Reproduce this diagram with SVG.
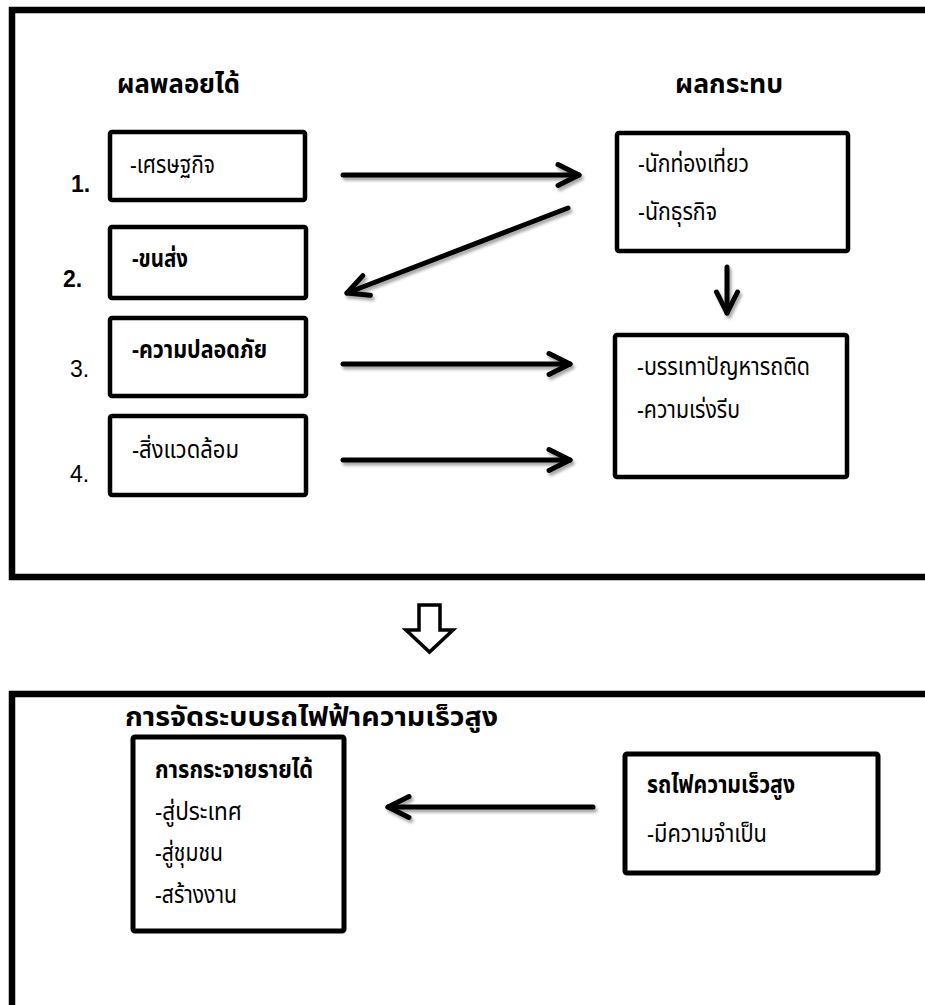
<svg xmlns="http://www.w3.org/2000/svg" width="925" height="1005" viewBox="0 0 925 1005">
<style>
.frame{fill:none;stroke:#000;stroke-width:6.5}
.box{fill:#fff;stroke:#000;stroke-width:4.5}
.box2{fill:#fff;stroke:#000;stroke-width:5}
.t{font-family:"Noto Sans Thai","Noto Sans","DejaVu Sans",sans-serif;font-size:24px;fill:#000}
.b{font-weight:bold}
.h{font-size:27px;font-weight:bold}
.n{font-family:"Liberation Sans",Arial,sans-serif;font-size:23px;fill:#000}
.ln{fill:none;stroke:#000;stroke-width:5;stroke-linecap:round}
</style>
<defs>
<filter id="sh" x="-10%" y="-50%" width="120%" height="200%">
<feDropShadow dx="2" dy="3" stdDeviation="1.6" flood-color="#000" flood-opacity="0.35"/>
</filter>
<marker id="ah" markerUnits="userSpaceOnUse" markerWidth="30" markerHeight="30" viewBox="0 0 30 30" refX="25" refY="15" orient="auto">
<path d="M4,4.5 L25,15 L4,25.5" fill="none" stroke="#000" stroke-width="5" stroke-linecap="round" stroke-linejoin="round"/>
</marker>
</defs>

<g id="frame-top">
<path class="frame" d="M925,10 H12 V577 H925"/>
<text class="t h" x="117" y="93" textLength="123" lengthAdjust="spacingAndGlyphs">ผลพลอยได้</text>
<text class="t h" x="675" y="93" textLength="108" lengthAdjust="spacingAndGlyphs">ผลกระทบ</text>
</g>

<g id="node-1">
<rect class="box" x="110" y="132" width="195" height="68" rx="2"/>
<text class="n b" x="71" y="192">1.</text>
<text class="t" x="130" y="173" textLength="85" lengthAdjust="spacingAndGlyphs">-เศรษฐกิจ</text>
</g>
<g id="node-2">
<rect class="box" x="110" y="227" width="196" height="71" rx="2"/>
<text class="n b" x="63" y="287">2.</text>
<text class="t b" x="132" y="267" textLength="56" lengthAdjust="spacingAndGlyphs">-ขนส่ง</text>
</g>
<g id="node-3">
<rect class="box" x="110" y="318" width="196" height="78" rx="2"/>
<text class="n" x="70" y="377">3.</text>
<text class="t b" x="132" y="358" textLength="135" lengthAdjust="spacingAndGlyphs">-ความปลอดภัย</text>
</g>
<g id="node-4">
<rect class="box" x="110" y="416" width="196" height="79" rx="2"/>
<text class="n" x="70" y="482">4.</text>
<text class="t" x="132" y="458" textLength="107" lengthAdjust="spacingAndGlyphs">-สิ่งแวดล้อม</text>
</g>
<g id="node-impact-1">
<rect class="box" x="617" y="133" width="231" height="118" rx="2"/>
<text class="t" x="638" y="172" textLength="111" lengthAdjust="spacingAndGlyphs">-นักท่องเที่ยว</text>
<text class="t" x="638" y="220" textLength="79" lengthAdjust="spacingAndGlyphs">-นักธุรกิจ</text>
</g>
<g id="node-impact-2">
<rect class="box" x="615" y="335" width="232" height="142" rx="2"/>
<text class="t" x="637" y="375" textLength="173" lengthAdjust="spacingAndGlyphs">-บรรเทาปัญหารถติด</text>
<text class="t" x="637" y="418" textLength="103" lengthAdjust="spacingAndGlyphs">-ความเร่งรีบ</text>
</g>

<g id="frame-bottom">
<path class="frame" d="M925,694 H12 V1005"/>
<text class="t h" x="125" y="726" textLength="373" lengthAdjust="spacingAndGlyphs">การจัดระบบรถไฟฟ้าความเร็วสูง</text>
</g>
<g id="node-income">
<rect class="box2" x="133" y="737" width="211" height="194" rx="2"/>
<text class="t b" x="155" y="778" textLength="158" lengthAdjust="spacingAndGlyphs">การกระจายรายได้</text>
<text class="t" x="155" y="820" textLength="87" lengthAdjust="spacingAndGlyphs">-สู่ประเทศ</text>
<text class="t" x="155" y="861" textLength="68" lengthAdjust="spacingAndGlyphs">-สู่ชุมชน</text>
<text class="t" x="155" y="903" textLength="82" lengthAdjust="spacingAndGlyphs">-สร้างงาน</text>
</g>
<g id="node-hsr">
<rect class="box2" x="625" y="754" width="253" height="119" rx="2"/>
<text class="t b" x="647" y="793" textLength="148" lengthAdjust="spacingAndGlyphs">รถไฟความเร็วสูง</text>
<text class="t" x="647" y="842" textLength="120" lengthAdjust="spacingAndGlyphs">-มีความจำเป็น</text>
</g>

<g id="connectors">
<g filter="url(#sh)">
<line class="ln" x1="343" y1="175" x2="579" y2="175" marker-end="url(#ah)"/>
<line class="ln" x1="568" y1="208" x2="347" y2="293" marker-end="url(#ah)"/>
<line class="ln" x1="727" y1="267" x2="727" y2="313" marker-end="url(#ah)"/>
<line class="ln" x1="343" y1="364" x2="570" y2="364" marker-end="url(#ah)"/>
<line class="ln" x1="343" y1="460" x2="570" y2="460" marker-end="url(#ah)"/>
<line class="ln" x1="593" y1="807" x2="388" y2="807" stroke-width="6" marker-end="url(#ah)"/>
</g>
<polygon points="419,605 440,605 440,630 453,630 429.5,652 406,630 419,630" fill="#fff" stroke="#000" stroke-width="3.5" stroke-linejoin="miter"/>
</g>
</svg>
